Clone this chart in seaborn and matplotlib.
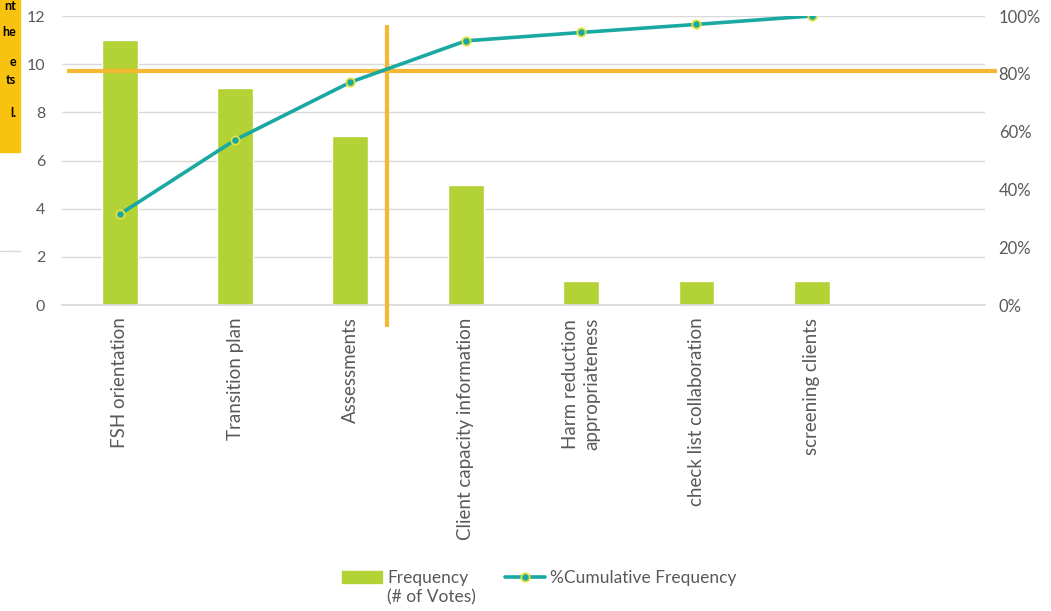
import matplotlib
matplotlib.use("Agg")
import matplotlib.pyplot as plt
import matplotlib.patches as mpatches
import matplotlib.lines as mlines
from matplotlib.ticker import FixedLocator, PercentFormatter
import numpy as np
import pandas as pd
import seaborn as sns

# ---- data ----
categories = ["FSH orientation", "Transition plan", "Assessments",
              "Client capacity information", "Harm reduction\nappropriateness",
              "check list collaboration", "screening clients"]
frequency = [11, 9, 7, 5, 1, 1, 1]
cumulative_pct = [31.4, 57.1, 77.1, 91.4, 94.3, 97.1, 100.0]
left_ticks = [0, 2, 4, 6, 8, 10, 12]
right_ticks = [0, 20, 40, 60, 80, 100]
side_fragments = ["nt", "he", "e", "ts", "l."]

# ---- style ----
sns.set_theme(style="white")
plt.rcParams["font.family"] = ["Lato", "DejaVu Sans"]
GREEN = "#b3d235"
TEAL = "#1aa8a2"
ORANGE = "#f6b732"
GRID = "#d9d9d9"
TXT = "#595959"

fig = plt.figure(figsize=(10.51, 6.11), dpi=100)
ax = fig.add_axes([0.059, 0.5008, 0.878, 0.473])

df = pd.DataFrame({"cat": categories, "freq": frequency})
sns.barplot(data=df, x="cat", y="freq", order=categories, color=GREEN,
            saturation=1, width=0.31, ax=ax)
ax.set_xlim(-0.5, 7.5)
ax.set_ylim(0, 12)
ax.set_yticks(left_ticks)
ax.yaxis.grid(True, color=GRID, linewidth=1)
ax.set_axisbelow(True)
ax.set_xlabel("")
ax.set_ylabel("")
for s in ["left", "right", "top"]:
    ax.spines[s].set_visible(False)
ax.spines["bottom"].set_color(GRID)
ax.tick_params(axis="y", length=0, labelsize=11.5, labelcolor=TXT, pad=12)
ax.set_xticks(range(len(categories)))
ax.set_xticklabels(categories, rotation=90, fontsize=13.5, color=TXT,
                   va="top", ha="center", linespacing=1.3)
ax.tick_params(axis="x", which="major", length=0, pad=9)
ax.xaxis.set_minor_locator(FixedLocator(np.arange(-0.5, 8.0, 1.0)))
ax.tick_params(axis="x", which="minor", direction="in", length=4,
               color=GRID, width=1)

ax2 = ax.twinx()
sns.lineplot(x=np.arange(len(cumulative_pct)), y=cumulative_pct, ax=ax2,
             color=TEAL, linewidth=2.6, marker="o", markersize=6,
             markerfacecolor=TEAL, markeredgecolor="#e3e23a",
             markeredgewidth=1.3, zorder=5)
ax2.set_ylim(0, 100)
ax2.set_yticks(right_ticks)
ax2.yaxis.set_major_formatter(PercentFormatter(decimals=0))
ax2.tick_params(axis="y", length=0, labelsize=12, labelcolor=TXT, pad=10)
ax2.set_ylabel("")
for s in ["left", "right", "top", "bottom"]:
    ax2.spines[s].set_visible(False)
ax2.set_xlim(-0.5, 7.5)

# orange crosshair annotation
ax.plot([-0.457, 7.61], [9.72, 9.72], color=ORANGE, linewidth=3,
        clip_on=False, zorder=6, solid_capstyle="butt")
ax.plot([2.316, 2.316], [11.63, -0.91], color=ORANGE, linewidth=3,
        clip_on=False, zorder=6, solid_capstyle="butt")

# legend
h1 = mpatches.Patch(color=GREEN, label="Frequency")
h2 = mlines.Line2D([], [], color=TEAL, linewidth=2.6, marker="o",
                   markersize=6, markerfacecolor=TEAL,
                   markeredgecolor="#e3e23a", markeredgewidth=1.3,
                   label="%Cumulative Frequency")
leg = fig.legend(handles=[h1, h2], loc="center", ncol=2,
                 bbox_to_anchor=(0.513, 1 - 578 / 611), frameon=False,
                 fontsize=12.5, handlelength=2.3, columnspacing=2.1,
                 handletextpad=0.3, borderpad=0, borderaxespad=0)
for t in leg.get_texts():
    t.set_color(TXT)
fig.canvas.draw()
bb = leg.get_texts()[0].get_window_extent()
inv = fig.transFigure.inverted()
x0, y0 = inv.transform((bb.x0, bb.y0))
fig.text(x0, y0 - 3 / 611, "(# of Votes)", ha="left", va="top",
         fontsize=12.5, color=TXT)

# cut-off side panel at left edge
fig.patches.append(mpatches.Rectangle((0, 1 - 152 / 611), 20 / 1051, 152 / 611,
                                      transform=fig.transFigure,
                                      color="#f9c20e", zorder=0))
frag_y = [6, 32, 62, 80, 113]
for frag, yy in zip(side_fragments, frag_y):
    fig.text(16 / 1051, 1 - yy / 611, frag, ha="right", va="center",
             fontsize=9, fontweight="bold", color="black")
fig.add_artist(mlines.Line2D([0, 20 / 1051], [1 - 251 / 611, 1 - 251 / 611],
                             transform=fig.transFigure, color=GRID,
                             linewidth=1))

fig.savefig("out.png", dpi=100)
